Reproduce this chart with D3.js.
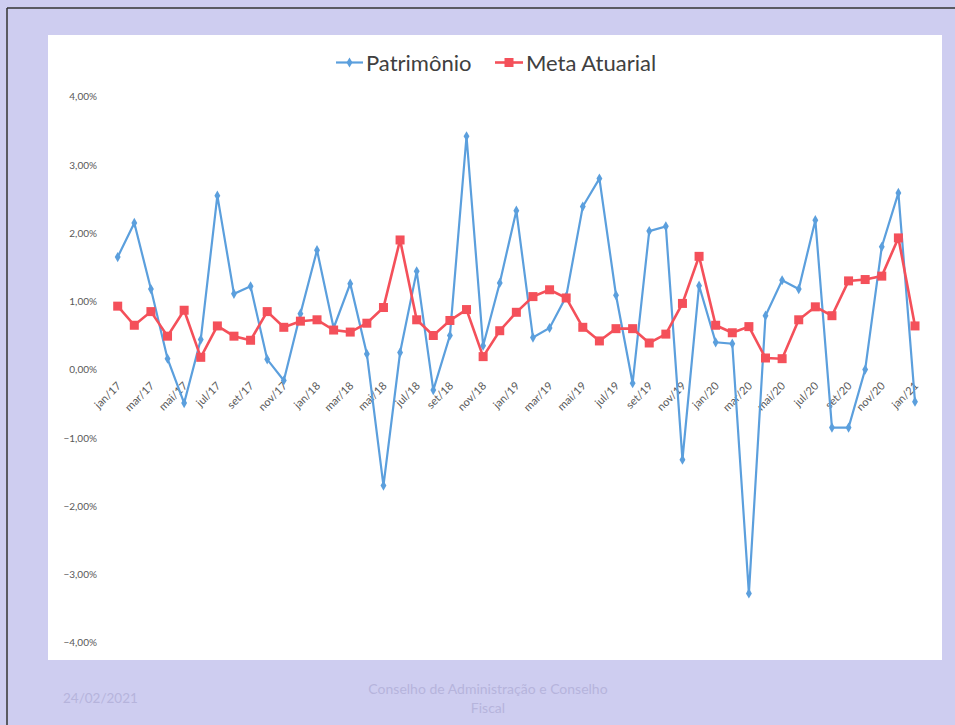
<!DOCTYPE html>
<html><head><meta charset="utf-8">
<script src="https://cdn.jsdelivr.net/npm/d3@7"></script>
<style>
html,body{margin:0;padding:0;background:#cecdf0;}
svg{display:block;}
</style></head>
<body>
<svg id="chart" width="955" height="725"></svg>
<script>
const months = ["jan/17","fev/17","mar/17","abr/17","mai/17","jun/17","jul/17","ago/17","set/17","out/17","nov/17","dez/17",
"jan/18","fev/18","mar/18","abr/18","mai/18","jun/18","jul/18","ago/18","set/18","out/18","nov/18","dez/18",
"jan/19","fev/19","mar/19","abr/19","mai/19","jun/19","jul/19","ago/19","set/19","out/19","nov/19","dez/19",
"jan/20","fev/20","mar/20","abr/20","mai/20","jun/20","jul/20","ago/20","set/20","out/20","nov/20","dez/20",
"jan/21"];
const patrimonio = [1.65,2.15,1.18,0.16,-0.49,0.44,2.55,1.11,1.22,0.15,-0.16,0.82,
1.75,0.61,1.26,0.23,-1.70,0.25,1.44,-0.30,0.50,3.42,0.35,1.27,
2.33,0.47,0.61,1.07,2.39,2.80,1.09,-0.20,2.03,2.10,-1.32,1.23,
0.40,0.38,-3.28,0.79,1.31,1.18,2.19,-0.85,-0.85,0.00,1.80,2.59,
-0.47];
const metaAtuarial = [0.93,0.65,0.85,0.49,0.87,0.18,0.64,0.49,0.43,0.85,0.62,0.71,
0.73,0.58,0.55,0.68,0.91,1.90,0.73,0.50,0.72,0.88,0.19,0.57,
0.84,1.07,1.17,1.05,0.62,0.42,0.60,0.60,0.39,0.52,0.97,1.66,
0.65,0.54,0.63,0.17,0.16,0.73,0.92,0.79,1.30,1.32,1.37,1.93,
0.64];
const yTicks = [4,3,2,1,0,-1,-2,-3,-4];
const seriesNames = ["Patrimônio","Meta Atuarial"];

const svg = d3.select("#chart");
const font = "Lato, 'Open Sans', sans-serif";

// frame
svg.append("rect").attr("x",0).attr("y",0).attr("width",955).attr("height",725).attr("fill","#cecdf0");
svg.append("line").attr("x1",7).attr("x2",955).attr("y1",8).attr("y2",8).attr("stroke","#333").attr("stroke-width",1.5);
svg.append("line").attr("x1",7).attr("x2",7).attr("y1",8).attr("y2",725).attr("stroke","#333").attr("stroke-width",1.5);
svg.append("rect").attr("x",48).attr("y",35).attr("width",894).attr("height",625).attr("fill","#ffffff");

const x = d3.scalePoint().domain(months).range([117.7, 915]);
const y = d3.scaleLinear().domain([-4,4]).range([642.5, 96.7]);

// y axis labels
const fmt = v => d3.format(".2f")(v).replace(".", ",") + "%";
const yAxis = d3.axisLeft(y).tickValues(yTicks).tickFormat(fmt).tickSize(0).tickPadding(0);
const gy = svg.append("g").attr("transform","translate(97,0)").call(yAxis);
gy.select(".domain").remove();
gy.selectAll("text").attr("font-family",font).attr("font-size",10).attr("fill","#595959");

// x labels
const gx = svg.append("g");
gx.selectAll("text").data(months.filter((m,i)=>i%2===0)).join("text")
  .attr("transform", d => `translate(${x(d)+4},${y(0)+17}) rotate(-45)`)
  .attr("text-anchor","end")
  .attr("font-family",font).attr("font-size",11).attr("fill","#595959")
  .text(d=>d);

const blue = "#5b9fdd", red = "#f4505a";
const line = d3.line().x((d,i)=>x(months[i])).y(d=>y(d));

svg.append("path").datum(patrimonio).attr("d",line).attr("fill","none").attr("stroke",blue).attr("stroke-width",2.2);
svg.append("path").datum(metaAtuarial).attr("d",line).attr("fill","none").attr("stroke",red).attr("stroke-width",2.6);

const diamond = d3.symbol().type(d3.symbolDiamond).size(30);
svg.append("g").selectAll("path").data(patrimonio).join("path")
  .attr("d",diamond).attr("fill",blue)
  .attr("transform",(d,i)=>`translate(${x(months[i])},${y(d)})`);
svg.append("g").selectAll("rect").data(metaAtuarial).join("rect")
  .attr("x",(d,i)=>x(months[i])-4.5).attr("y",d=>y(d)-4.5).attr("width",9).attr("height",9).attr("fill",red);

// legend
const lg = svg.append("g").attr("transform","translate(0,62.5)");
lg.append("line").attr("x1",336).attr("x2",363).attr("y1",0).attr("y2",0).attr("stroke",blue).attr("stroke-width",2.2);
lg.append("path").attr("d",diamond).attr("fill",blue).attr("transform","translate(349.5,0)");
lg.append("text").attr("x",366).attr("y",8.5).attr("font-family",font).attr("font-size",22).attr("fill","#404040").text(seriesNames[0]);
lg.append("line").attr("x1",495).attr("x2",523).attr("y1",0).attr("y2",0).attr("stroke",red).attr("stroke-width",2.6);
lg.append("rect").attr("x",504.5).attr("y",-4.5).attr("width",9).attr("height",9).attr("fill",red);
lg.append("text").attr("x",526).attr("y",8.5).attr("font-family",font).attr("font-size",22).attr("fill","#404040").text(seriesNames[1]);

// footer
svg.append("text").attr("x",63).attr("y",703).attr("font-family",font).attr("font-size",13.5).attr("fill","#b6b4dc").text("24/02/2021");
svg.append("text").attr("x",488).attr("y",694).attr("text-anchor","middle").attr("font-family",font).attr("font-size",14).attr("fill","#b6b4dc").text("Conselho de Administração e Conselho");
svg.append("text").attr("x",488).attr("y",713).attr("text-anchor","middle").attr("font-family",font).attr("font-size",14).attr("fill","#b6b4dc").text("Fiscal");
</script>
</body></html>
